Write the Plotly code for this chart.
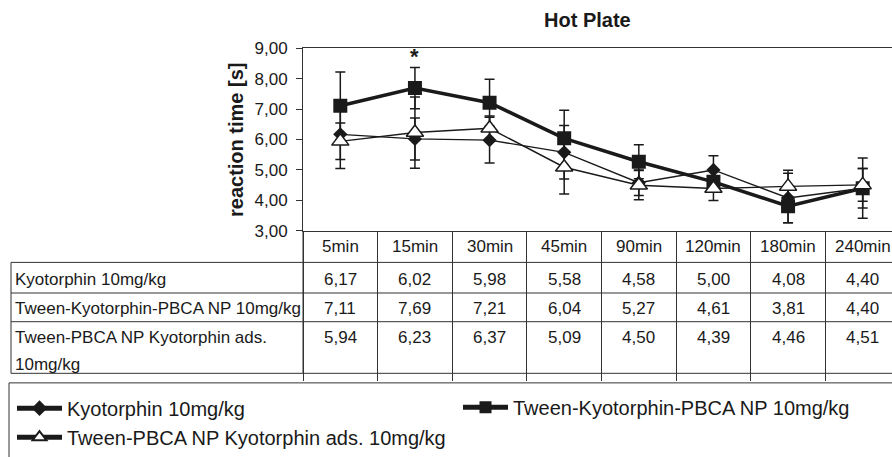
import plotly.graph_objects as go

# ---------------- data ----------------
categories = ["5min", "15min", "30min", "45min", "90min", "120min", "180min", "240min"]
kyotorphin = [6.17, 6.02, 5.98, 5.58, 4.58, 5.00, 4.08, 4.40]
tween_np = [7.11, 7.69, 7.21, 6.04, 5.27, 4.61, 3.81, 4.40]
tween_ads = [5.94, 6.23, 6.37, 5.09, 4.50, 4.39, 4.46, 4.51]
kyotorphin_err = [1.12, 0.69, 0.75, 0.88, 0.42, 0.47, 0.81, 0.99]
tween_np_err = [1.11, 0.68, 0.77, 0.92, 0.56, 0.20, 0.54, 0.65]
tween_ads_err = [0.60, 1.17, 0.40, 0.88, 0.48, 0.39, 0.53, 0.54]
series_names = ["Kyotorphin 10mg/kg",
                "Tween-Kyotorphin-PBCA NP 10mg/kg",
                "Tween-PBCA NP Kyotorphin ads. 10mg/kg"]
table_labels = [["Kyotorphin 10mg/kg"],
                ["Tween-Kyotorphin-PBCA NP 10mg/kg"],
                ["Tween-PBCA NP Kyotorphin ads.", "10mg/kg"]]
y_tick_values = [3, 4, 5, 6, 7, 8, 9]
chart_title = "Hot Plate"
y_title = "reaction time [s]"
significant_index = 1  # "*" above 15min

# ---------------- layout helpers ----------------
W, H = 892, 457
FONT = "Liberation Sans, Arial, sans-serif"
INK = "#1a1a1a"


def px(x):
    return x / W


def py(y):
    return 1 - y / H


fig = go.Figure()

series = [
    (kyotorphin, kyotorphin_err, series_names[0],
     dict(symbol="diamond", size=11, color=INK), 1.4, "legend"),
    (tween_np, tween_np_err, series_names[1],
     dict(symbol="square", size=14, color=INK), 3.5, "legend2"),
    (tween_ads, tween_ads_err, series_names[2],
     dict(symbol="triangle-up", size=15, color="white",
          line=dict(color=INK, width=1.5)), 1.4, "legend"),
]
for vals, errs, name, marker, lw, leg in series:
    fig.add_trace(go.Scatter(
        x=categories, y=vals, name=name, mode="lines+markers",
        line=dict(color=INK, width=lw), marker=marker,
        error_y=dict(type="data", array=errs, visible=True,
                     color=INK, thickness=1.5, width=5),
        legend=leg,
    ))

annotations = []
# title
annotations.append(dict(text="<b>%s</b>" % chart_title, x=px(587), y=py(12),
                        xref="paper", yref="paper", showarrow=False,
                        xanchor="center", yanchor="middle",
                        font=dict(size=20, family=FONT, color=INK)))
# y axis title
annotations.append(dict(text="<b>%s</b>" % y_title, x=px(236), y=py(137),
                        xref="paper", yref="paper", showarrow=False,
                        textangle=-90, xanchor="center", yanchor="middle",
                        font=dict(size=20, family=FONT, color=INK)))
# star
annotations.append(dict(text="<b>*</b>", x=significant_index, y=8.73,
                        xref="x", yref="y", showarrow=False,
                        xanchor="center", yanchor="middle",
                        font=dict(size=22, family=FONT, color=INK)))
# table header
for i, c in enumerate(categories):
    annotations.append(dict(text=c, x=i, y=py(248), xref="x", yref="paper",
                            showarrow=False, xanchor="center", yanchor="middle",
                            font=dict(size=17, family=FONT, color=INK)))
# table rows
row_y = [283, 313, 344]
second_line_y = 372
for r, vals in enumerate([kyotorphin, tween_np, tween_ads]):
    for i, v in enumerate(vals):
        annotations.append(dict(text=("%.2f" % v).replace(".", ","), x=i, y=py(row_y[r]),
                                xref="x", yref="paper", showarrow=False,
                                xanchor="center", yanchor="middle",
                                font=dict(size=17, family=FONT, color=INK)))
    for k, line in enumerate(table_labels[r]):
        yy = row_y[r] if k == 0 else second_line_y
        annotations.append(dict(text=line, x=px(13), y=py(yy),
                                xref="paper", yref="paper", showarrow=False,
                                xanchor="left", yanchor="middle",
                                font=dict(size=17, family=FONT, color=INK)))

shapes = []
LC = "#333333"
for yy in [265, 297, 327, 381]:
    shapes.append(dict(type="line", xref="paper", yref="paper",
                       x0=px(11), x1=1.01, y0=py(yy), y1=py(yy),
                       line=dict(color=LC, width=1)))
shapes.append(dict(type="line", xref="paper", yref="paper",
                   x0=px(11), x1=px(11), y0=py(265), y1=py(381),
                   line=dict(color=LC, width=1)))
shapes.append(dict(type="line", xref="paper", yref="paper",
                   x0=px(303), x1=px(303), y0=py(232), y1=py(381),
                   line=dict(color=LC, width=1)))
# legend box
shapes.append(dict(type="rect", xref="paper", yref="paper",
                   x0=px(9), x1=1.02, y0=-0.05, y1=py(391),
                   line=dict(color=LC, width=1), fillcolor="rgba(0,0,0,0)"))

x_right = 7.5 - (900 - 892) / 74.6

fig.update_layout(
    width=W, height=H,
    margin=dict(l=0, r=0, t=0, b=0),
    paper_bgcolor="white", plot_bgcolor="white",
    separators=",.",
    font=dict(family=FONT, color=INK, size=17),
    xaxis=dict(domain=[px(303), 1], range=[-0.5, x_right], type="category",
               showline=True, linecolor=LC, linewidth=1, mirror=True,
               showgrid=False, zeroline=False, showticklabels=False,
               ticks="outside", tickson="boundaries", ticklen=149,
               tickcolor=LC, tickwidth=1),
    yaxis=dict(domain=[py(232), py(41)], range=[3, 9],
               tickvals=y_tick_values, tickformat=".2f",
               showline=True, linecolor=LC, linewidth=1,
               showgrid=False, zeroline=False,
               ticks="outside", ticklen=6, tickcolor=LC, tickwidth=1,
               ticklabelstandoff=5,
               tickfont=dict(size=17, family=FONT, color=INK)),
    legend=dict(x=px(12), y=py(397), xanchor="left", yanchor="top",
                orientation="v", borderwidth=0, bgcolor="rgba(0,0,0,0)",
                itemwidth=45, itemsizing="constant", tracegroupgap=0,
                font=dict(size=20, family=FONT, color=INK)),
    legend2=dict(x=px(458), y=py(396), xanchor="left", yanchor="top",
                 orientation="v", borderwidth=0, bgcolor="rgba(0,0,0,0)",
                 itemwidth=45, itemsizing="constant",
                 font=dict(size=20, family=FONT, color=INK)),
    showlegend=True,
    annotations=annotations,
    shapes=shapes,
)

fig.write_html("out.html")
